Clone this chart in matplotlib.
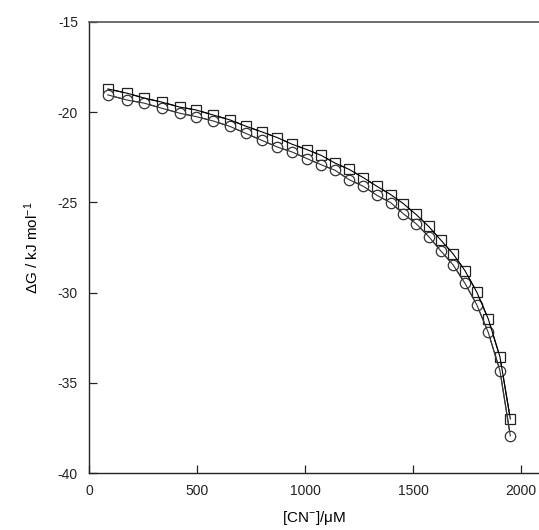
import numpy as np
import matplotlib
matplotlib.use("Agg")
import matplotlib.pyplot as plt

plt.rcParams["font.family"] = ["Liberation Sans", "DejaVu Sans"]
plt.rcParams["mathtext.fontset"] = "custom"
plt.rcParams["mathtext.rm"] = "Liberation Sans"
plt.rcParams["mathtext.it"] = "Liberation Sans:italic"
plt.rcParams["mathtext.default"] = "regular"
plt.rcParams["axes.unicode_minus"] = False

# cyanide concentration (uM)
conc = [87, 174, 256, 337, 421, 494, 573, 653, 727, 800, 872, 941, 1008, 1074,
        1139, 1204, 1270, 1333, 1397, 1455, 1514, 1572, 1627, 1685, 1740, 1795,
        1848, 1902, 1950]

# dG (kJ/mol), squares
dg_sq = [-18.71, -18.94, -19.22, -19.44, -19.72, -19.87, -20.15, -20.43, -20.78,
         -21.09, -21.41, -21.78, -22.07, -22.39, -22.82, -23.17, -23.63, -24.11,
         -24.57, -25.07, -25.67, -26.33, -27.07, -27.85, -28.78, -29.98, -31.46,
         -33.56, -37.0]

# dG (kJ/mol), circles
dg_ci = [-19.04, -19.32, -19.50, -19.78, -20.06, -20.24, -20.48, -20.79, -21.18,
         -21.56, -21.93, -22.21, -22.57, -22.91, -23.22, -23.74, -24.11, -24.61,
         -25.02, -25.63, -26.18, -26.89, -27.67, -28.46, -29.48, -30.68, -32.21,
         -34.33, -37.94]

fig = plt.figure(figsize=(5.39, 5.30), dpi=100)
ax = fig.add_axes([0.1651, 0.1075, 0.835, 0.851])

ax.plot(conc, dg_sq, color="black", lw=0.8, marker="s", ms=7,
        mfc="white", mec="#222222", mew=0.9, zorder=2)
ax.plot(conc, dg_ci, color="#333333", lw=0.8, marker="o", ms=7.5,
        mfc="white", mec="#333333", mew=0.9, zorder=3)
# lines back on top of the markers
ax.plot(conc, dg_sq, color="black", lw=0.8, zorder=4)
ax.plot(conc, dg_ci, color="#333333", lw=0.8, zorder=4)

ax.set_xlim(0, 2083)
ax.set_ylim(-40, -15)
ax.set_xticks([0, 500, 1000, 1500, 2000])
ax.set_yticks([-40, -35, -30, -25, -20, -15])

ax.spines["right"].set_visible(False)
ax.spines["top"].set_color("#555555")
ax.spines["top"].set_linewidth(1.2)
for s in ["left", "bottom"]:
    ax.spines[s].set_color("#222222")
    ax.spines[s].set_linewidth(1.0)

ax.tick_params(direction="in", length=6, width=0.9, colors="#222222",
               labelsize=10, top=False, right=False)
ax.tick_params(axis="y", pad=8)
ax.tick_params(axis="x", pad=8)

ax.set_xlabel(r"[CN$^{-}$]/$\mu$M", fontsize=11, labelpad=8)
ax.set_ylabel(r"$\Delta$G / kJ mol$^{-1}$", fontsize=11, labelpad=12)

fig.savefig("out.png", dpi=100)
